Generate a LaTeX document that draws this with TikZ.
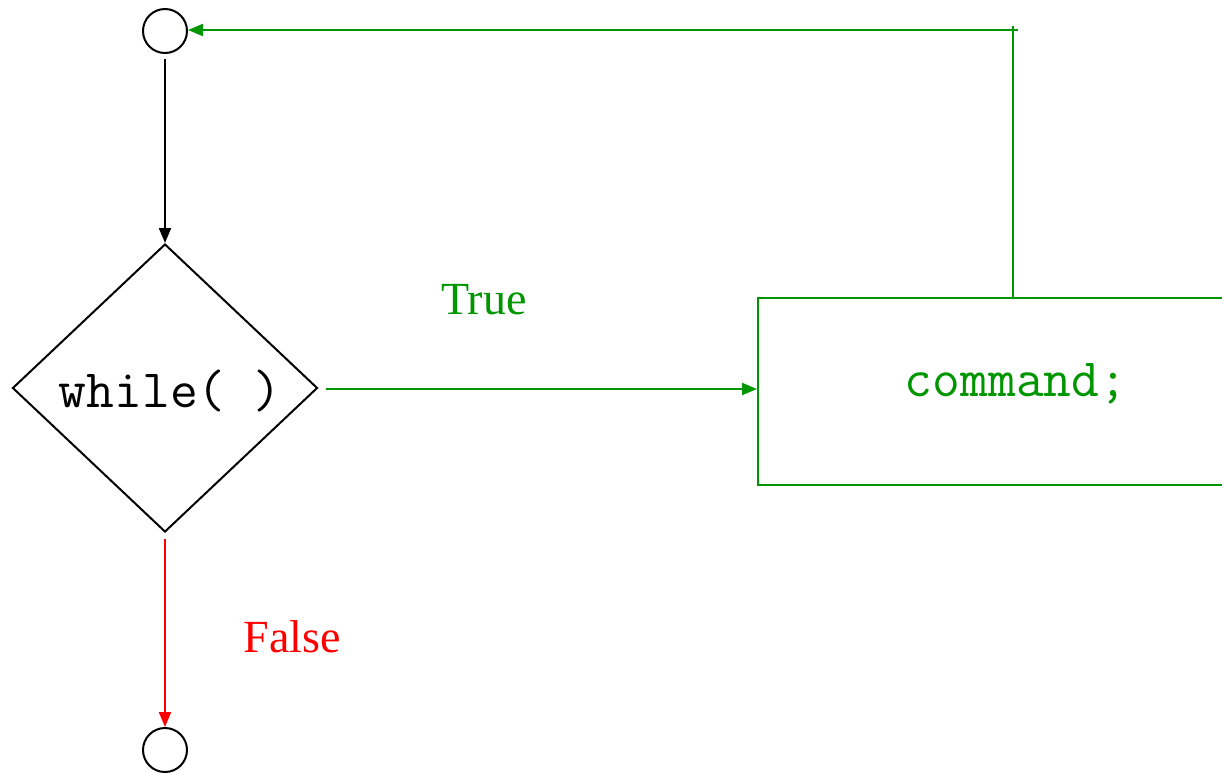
\documentclass[tikz,border=0pt]{standalone}
\usepackage{fontspec}
\setmainfont{Liberation Serif}
\usetikzlibrary{arrows.meta,shapes.geometric}
\definecolor{truegreen}{RGB}{0,150,0}
\definecolor{falsered}{RGB}{255,0,0}
\begin{document}
\begin{tikzpicture}[x=1pt,y=-1pt,
  line width=2pt,
  tip/.style={-{Triangle[length=15pt,width=12pt]}},
  terminal/.style={circle,draw=black,minimum size=44pt,inner sep=0pt},
  decision/.style={diamond,draw=black,minimum width=305pt,minimum height=288pt,inner sep=0pt,aspect=1.06},
  cmdbox/.style={draw=truegreen,minimum width=500pt,minimum height=187pt,inner sep=0pt,anchor=north west},
  code/.style={font=\ttfamily\fontsize{54}{54}\selectfont},
  label/.style={font=\fontsize{46}{46}\selectfont}]
\clip (0,0) rectangle (1222,772);
\fill[white] (0,0) rectangle (1222,772);

% start and end terminals
\node[terminal] (start) at (165,31) {};
\node[terminal] (stop) at (165,750) {};

% loop condition
\node[decision] (cond) at (165,388) {};
\node[code] at (170,391) {while( )};

% loop body, running off the right edge
\node[cmdbox] (body) at (757,297) {};
\node[code,text=truegreen] at (1016,384) {command;};

% flow
\draw[tip] (start.south) ++(0,5) coordinate (s0) -- (cond.north);
\draw[tip,truegreen] (cond.east) ++(7,1) coordinate (t0) -- (body.west |- t0);
\draw[tip,falsered] (cond.south) ++(0,6) coordinate (f0) -- (stop.north);

% back edge to the start
\coordinate (up) at (1013,26);
\coordinate (corner) at (1018,30);
\draw[truegreen] (body.north west) ++(256,0) coordinate (b0) -- (up);
\draw[tip,truegreen] (corner) -- (start.east |- corner);

\node[label,text=truegreen] at (484,300) {True};
\node[label,text=falsered] at (292,637) {False};
\end{tikzpicture}
\end{document}
